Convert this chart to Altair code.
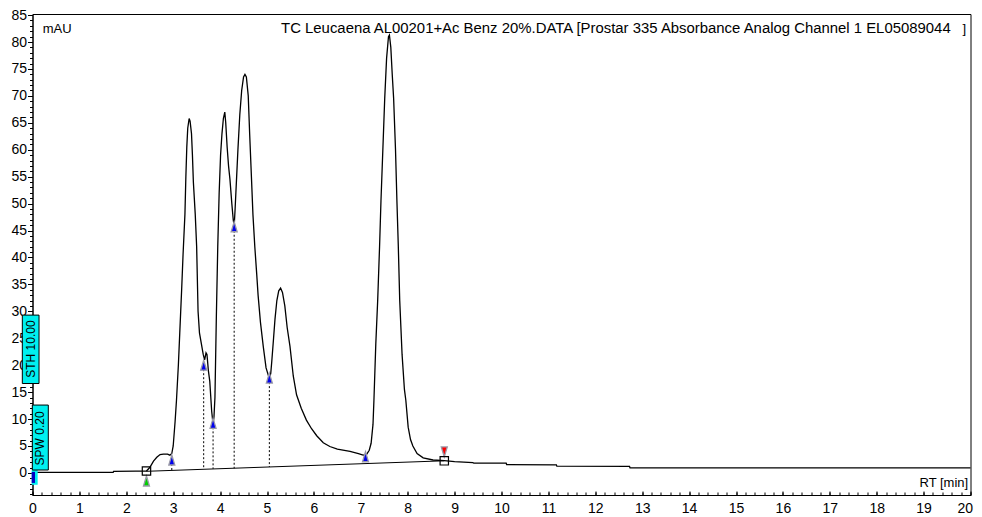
import altair as alt
import pandas as pd

# ---------------- data ----------------
trace_t = [0.07, 0.08, 1.0, 1.72, 1.73, 2.2, 2.43, 2.5, 2.58, 2.65, 2.72, 2.79, 2.88, 2.93,
           2.97, 3.00, 3.04, 3.07, 3.11, 3.14, 3.18, 3.21, 3.25, 3.27, 3.29, 3.31, 3.34, 3.36,
           3.39, 3.41, 3.43, 3.47, 3.50, 3.53, 3.56, 3.60, 3.64, 3.67, 3.70, 3.72, 3.75, 3.78,
           3.82, 3.85, 3.87, 3.89, 3.92, 3.95, 3.98, 4.01, 4.04, 4.07, 4.10, 4.12, 4.15, 4.18,
           4.21, 4.25, 4.28, 4.30, 4.32, 4.35, 4.38, 4.42, 4.46, 4.50, 4.53, 4.56, 4.60, 4.63,
           4.67, 4.70, 4.74, 4.78, 4.81, 4.86, 4.92, 4.98, 5.05, 5.08, 5.10, 5.14, 5.17, 5.21,
           5.25, 5.29, 5.33, 5.38, 5.43, 5.49, 5.56, 5.63, 5.73, 5.84, 5.95, 6.06, 6.20, 6.34,
           6.50, 6.77, 6.95, 7.05, 7.12, 7.18, 7.22, 7.26, 7.28, 7.32, 7.36, 7.40, 7.43, 7.47,
           7.51, 7.55, 7.59, 7.61, 7.64, 7.67, 7.70, 7.74, 7.77, 7.80, 7.83, 7.88, 7.93, 7.96,
           8.01, 8.06, 8.11, 8.20, 8.33, 8.54, 8.78, 9.0, 9.39, 9.41, 10.10, 10.11, 11.17, 11.18,
           12.73, 12.74, 20.0]
trace_v = [0.8, 0.1, 0.1, 0.1, 0.3, 0.35, 0.35, 1.0, 2.2, 2.9, 3.4, 3.5, 3.5, 3.3,
           3.6, 5.0, 9.5, 13.5, 20.0, 26.0, 34.0, 40.5, 48.0, 55.0, 60.5, 64.0, 65.8, 65.3,
           63.0, 59.0, 54.0, 48.0, 42.0, 30.0, 26.0, 24.0, 22.0, 21.0, 22.3, 22.0, 19.0, 17.0,
           11.5, 9.0, 10.5, 14.0, 29.0, 42.0, 52.0, 59.0, 63.0, 65.8, 67.0, 65.0, 60.5, 57.0,
           54.5, 50.0, 47.0, 45.8, 49.0, 54.5, 60.0, 66.5, 71.0, 73.5, 74.0, 73.5, 70.0, 63.0,
           54.5, 48.0, 42.0, 37.0, 33.0, 28.0, 23.5, 19.5, 17.5, 18.5, 20.5, 25.0, 28.5, 32.0,
           33.8, 34.3, 33.5, 31.0, 27.0, 23.5, 18.0, 14.5, 12.0, 9.8, 8.2, 6.9, 5.6, 4.9,
           4.4, 4.0, 3.6, 3.3, 3.4, 4.2, 5.5, 9.0, 13.5, 24.0, 32.0, 42.0, 50.5, 60.0,
           69.5, 77.0, 81.0, 81.3, 79.0, 74.0, 69.5, 60.0, 50.5, 42.0, 32.0, 22.0, 15.5, 13.5,
           8.5, 6.2, 5.0, 3.6, 2.8, 2.4, 2.3, 2.1, 1.9, 1.8, 1.8, 1.55, 1.5, 1.25,
           1.2, 0.95, 0.95]

baseline_t = [2.43, 8.78]
baseline_v = [0.3, 2.25]

valley_t = [2.97, 3.65, 3.85, 4.30, 5.05, 7.10]
valley_v = [2.4, 20.0, 9.2, 45.7, 17.6, 3.0]

drop_t = [2.97, 3.65, 3.85, 4.30, 5.05]
drop_top = [2.4, 20.0, 9.2, 45.7, 17.6]
drop_bottom = [0.45, 0.7, 0.75, 0.85, 1.1]

box_t = [2.43, 8.78]
box_v = [0.35, 2.25]

start_t = [2.43]
start_v = [-1.5]
end_t = [8.78]
end_v = [3.9]

x_major = list(range(0, 21))
x_labels_main = list(range(0, 20))
x_label_last = [20]
x_minor = [round(i * 0.2, 1) for i in range(0, 101)]
y_major = list(range(0, 86, 5))
y_minor = list(range(-4, 86))

title_text = "TC Leucaena AL00201+Ac Benz 20%.DATA [Prostar 335 Absorbance Analog Channel 1 EL05089044"

FONT = "Liberation Sans"
xs = alt.Scale(domain=[0, 20], nice=False, zero=False)
ys = alt.Scale(domain=[-4.1, 85.2], nice=False, zero=False)

trace_df = pd.DataFrame({"t": trace_t, "v": trace_v})

# --- axis carriers ---
ax_labels = alt.Chart(trace_df).mark_line(color="black", strokeWidth=1.3).encode(
    x=alt.X("t:Q", scale=xs, title=None,
            axis=alt.Axis(orient="bottom", values=x_labels_main, ticks=False, labelPadding=6,
                          labelFlush=False, labelOverlap=False, grid=False, domain=True,
                          domainColor="black", labelColor="black", labelFont=FONT, labelFontSize=14)),
    y=alt.Y("v:Q", scale=ys, title=None,
            axis=alt.Axis(orient="left", values=y_major, tickSize=5, labelPadding=1,
                          labelFlush=False, labelOverlap=False, grid=False, domain=True,
                          domainColor="black", tickColor="black", labelColor="black",
                          labelFont=FONT, labelFontSize=14)),
    order="t:Q",
)

ax_last = alt.Chart(trace_df).mark_point(opacity=0).encode(
    x=alt.X("t:Q", scale=xs, title=None,
            axis=alt.Axis(orient="bottom", values=x_label_last, ticks=False, labelPadding=6,
                          labelFlush=False, labelOverlap=False, grid=False, domain=False,
                          labelAlign="right", labelOffset=2,
                          labelColor="black", labelFont=FONT, labelFontSize=14)),
    y=alt.Y("v:Q", scale=ys, title=None, axis=None),
)

ax_major = alt.Chart(trace_df).mark_point(opacity=0).encode(
    x=alt.X("t:Q", scale=xs, title=None,
            axis=alt.Axis(orient="bottom", values=x_major, labels=False, domain=False, grid=False,
                          tickSize=4, offset=-4, tickColor="black")),
    y=alt.Y("v:Q", scale=ys, title=None,
            axis=alt.Axis(orient="left", values=y_minor, labels=False, domain=False, grid=False,
                          tickSize=3, tickColor="black")),
)

ax_minor = alt.Chart(trace_df).mark_point(opacity=0).encode(
    x=alt.X("t:Q", scale=xs, title=None,
            axis=alt.Axis(orient="bottom", values=x_minor, labels=False, domain=False, grid=False,
                          tickSize=3, offset=-3, tickColor="black")),
    y=alt.Y("v:Q", scale=ys, title=None, axis=None),
)

def X(field):
    return alt.X(field, scale=xs, axis=None)

def Y(field):
    return alt.Y(field, scale=ys, axis=None)

baseline = alt.Chart(pd.DataFrame({"t": baseline_t, "v": baseline_v})).mark_line(
    color="black", strokeWidth=1).encode(x=X("t:Q"), y=Y("v:Q"))

drops = alt.Chart(pd.DataFrame({"t": drop_t, "top": drop_top, "bot": drop_bottom})).mark_rule(
    color="black", strokeWidth=1, strokeDash=[2, 2]).encode(
    x=X("t:Q"), y=Y("top:Q"), y2="bot:Q")

tri_up = "M0,-1L0.6,1L-0.6,1Z"
tri_down = "M0,1L0.6,-1L-0.6,-1Z"

valleys = alt.Chart(pd.DataFrame({"t": valley_t, "v": valley_v})).mark_point(
    shape=tri_up, size=100, filled=True, fill="#0000ee", stroke="#9a9aa8", strokeWidth=1.3,
    opacity=1).encode(x=X("t:Q"), y=Y("v:Q"))

start_m = alt.Chart(pd.DataFrame({"t": start_t, "v": start_v})).mark_point(
    shape=tri_up, size=100, filled=True, fill="#00d000", stroke="#9a9aa8", strokeWidth=1.3,
    opacity=1).encode(x=X("t:Q"), y=Y("v:Q"))

end_m = alt.Chart(pd.DataFrame({"t": end_t, "v": end_v})).mark_point(
    shape=tri_down, size=100, filled=True, fill="#ff0000", stroke="#9a9aa8", strokeWidth=1.3,
    opacity=1).encode(x=X("t:Q"), y=Y("v:Q"))

boxes = alt.Chart(pd.DataFrame({"t": box_t, "v": box_v})).mark_point(
    shape="square", size=70, filled=False, color="black", strokeWidth=1.2, opacity=1).encode(
    x=X("t:Q"), y=Y("v:Q"))

# parameter labels on the left edge
lab_df = pd.DataFrame({
    "x1": [-0.217, -0.004], "x2": [0.139, 0.337],
    "y1": [16.6, 0.54], "y2": [29.3, 12.6],
    "tx": [-0.039, 0.166], "ty": [23.0, 6.4],
    "label": ["STH 10.00", "SPW 0.20"],
})
lab_boxes = alt.Chart(lab_df).mark_rect(fill="#00f0f0", stroke="black", strokeWidth=1).encode(
    x=X("x1:Q"), x2="x2:Q", y=Y("y1:Q"), y2="y2:Q")
lab_text = alt.Chart(lab_df).mark_text(angle=270, align="center", baseline="middle",
                                       font=FONT, fontSize=12, color="black").encode(
    x=X("tx:Q"), y=Y("ty:Q"), text="label:N")

start_df = pd.DataFrame({"x1": [-0.017], "x2": [0.11], "y1": [-2.2], "y2": [0.56],
                         "bx2": [0.053], "by1": [-1.86], "by2": [0.19]})
start_cyan = alt.Chart(start_df).mark_rect(fill="#00f0f0").encode(
    x=X("x1:Q"), x2="x2:Q", y=Y("y1:Q"), y2="y2:Q")
start_blue = alt.Chart(start_df).mark_rect(fill="#0000c0").encode(
    x=X("x1:Q"), x2="bx2:Q", y=Y("by1:Q"), y2="by2:Q")

texts_df = pd.DataFrame({
    "t": [0.218, 19.83],
    "v": [82.4, 82.4],
    "s": ["mAU", "]"],
})
texts = alt.Chart(texts_df).mark_text(align="left", baseline="middle", font=FONT,
                                      fontSize=13, color="black").encode(
    x=X("t:Q"), y=Y("v:Q"), text="s:N")

title_mark = alt.Chart(pd.DataFrame({"t": [5.3], "v": [82.4], "s": [title_text]})).mark_text(
    align="left", baseline="middle", font=FONT, fontSize=14.9, color="black").encode(
    x=X("t:Q"), y=Y("v:Q"), text="s:N")

rt = alt.Chart(pd.DataFrame({"t": [19.95], "v": [-1.87], "s": ["RT [min]"]})).mark_text(
    align="right", baseline="middle", font=FONT, fontSize=13, color="black").encode(
    x=X("t:Q"), y=Y("v:Q"), text="s:N")

chart = alt.layer(
    ax_major, ax_minor, ax_last, baseline, drops, ax_labels, start_cyan, start_blue,
    lab_boxes, lab_text, valleys, start_m, end_m, boxes, texts, title_mark, rt,
).resolve_axis(x="independent", y="independent").properties(
    width=938, height=481,
    padding={"left": 24.5, "top": 6, "right": 3, "bottom": 22},
    autosize=alt.AutoSizeParams(type="none"),
    background="white",
).configure_view(stroke="black", strokeWidth=1)

chart.save("out.html", embed_options={"renderer": "svg", "actions": False})
